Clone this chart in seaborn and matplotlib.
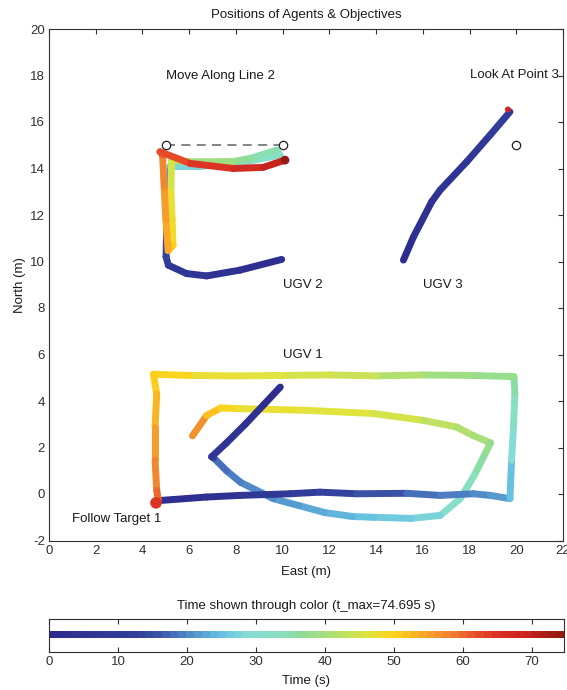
import numpy as np
import matplotlib
matplotlib.use("Agg")
import matplotlib.pyplot as plt
import seaborn as sns
import pandas as pd
from matplotlib.collections import LineCollection
from matplotlib.colors import LinearSegmentedColormap, Normalize

T_MAX = 74.695

# ---- UGV 1 trajectory (time s, east m, north m)
ugv1_t = [0, 2, 4, 6, 8, 18, 19, 20, 21.5, 22.5, 23.5, 24.5, 25.5, 27, 29, 32, 34, 36.5, 39,
          40.5, 42, 44, 45.5, 47, 48.5, 50.5, 54, 59]
ugv1_x = [9.9, 9.2, 8.4, 7.6, 6.96, 7.05, 7.6, 8.2, 9.6, 10.7, 11.8, 13.0, 13.9, 15.5, 16.75, 17.6, 18.2, 18.6, 18.9,
          18.14, 17.45, 16.0, 13.9, 11.0, 8.18, 7.35, 6.75, 6.14]
ugv1_y = [4.6, 3.85, 3.0, 2.2, 1.6, 1.55, 1.0, 0.5, -0.2, -0.5, -0.8, -0.97, -1.0, -1.05, -0.92, -0.2, 0.8, 1.6, 2.2,
          2.52, 2.88, 3.17, 3.46, 3.6, 3.67, 3.7, 3.38, 2.5]

# ---- UGV 2 trajectory
ugv2_t = [0, 3, 5, 7, 9, 10, 17, 24, 26, 28, 30, 32, 34, 36, 38, 40, 44, 46, 48, 50, 52, 53, 55, 57, 59,
          61, 63, 66, 68.5, 71]
ugv2_x = [9.96, 8.18, 6.75, 5.89, 5.11, 5.01, 5.05, 5.2, 5.39, 6.5, 8.0, 9.89, 9.75, 8.6, 7.9, 6.04, 5.25, 5.22,
          5.27, 5.31, 5.1, 5.1, 5.0, 4.93, 4.86, 4.75, 6.04, 7.89, 9.17, 10.1]
ugv2_y = [10.09, 9.63, 9.38, 9.48, 9.84, 10.2, 12.2, 14.1, 14.1, 14.1, 14.2, 14.58, 14.79, 14.43, 14.3, 14.29,
          14.35, 13.0, 11.8, 10.7, 10.47, 10.47, 11.8, 13.2, 14.57, 14.72, 14.22, 14.0, 14.05, 14.36]

# ---- UGV 3 trajectory
ugv3_t = [0, 1.5, 3.5, 4.5, 6.5, 8.5, 10.5]
ugv3_x = [15.17, 15.6, 16.38, 16.74, 17.88, 18.88, 19.73]
ugv3_y = [10.06, 11.06, 12.57, 13.07, 14.29, 15.44, 16.44]

# ---- Target 1 trajectory
tgt_t = [0, 3, 6, 9.5, 12.5, 15, 17.5, 19, 20.5, 21.5, 22.5, 27, 30.5, 34, 36.5, 38.5, 40.5, 42.5, 44, 45.5,
         47, 48.5, 50, 51.5, 54, 56.5, 59, 62]
tgt_x = [4.75, 6.75, 8.18, 10.32, 11.6, 13.17, 15.31, 16.74, 18.16, 18.88, 19.73, 19.8, 19.88, 19.94, 19.9,
         18.0, 16.0, 14.0, 12.0, 10.0, 8.0, 6.0, 4.47, 4.61, 4.54, 4.54, 4.61, 4.68]
tgt_y = [-0.28, -0.13, -0.06, 0.01, 0.08, 0.01, 0.03, -0.06, 0.01, -0.06, -0.2, 1.45, 2.9, 4.32, 5.05,
         5.1, 5.12, 5.08, 5.12, 5.1, 5.08, 5.1, 5.15, 4.3, 2.88, 1.45, 0.15, -0.25]

# ---- end markers (x, y, t)
end_x = [10.1, 19.64, 4.58]
end_y = [14.36, 16.54, -0.38]
end_t = [74.0, 68.0, 65.0]

# ---- objectives
obj_x = [5, 10, 20]
obj_y = [15, 15, 15]
line2_x = [5, 10]
line2_y = [15, 15]

labels = ["Move Along Line 2", "Look At Point 3", "Follow Target 1", "UGV 1", "UGV 2", "UGV 3"]
label_x = [5, 18, 1.0, 10, 10, 16]
label_y = [18, 18, -1.08, 6, 9, 9]

cb_ticks = [0, 10, 20, 30, 40, 50, 60, 70]

# ---- colour map sampled from the reference colour bar
cm_pos = [0.0, 0.17, 0.206, 0.25, 0.297, 0.336, 0.38, 0.446, 0.49, 0.553, 0.618, 0.676, 0.735, 0.787,
          0.833, 0.877, 0.929, 1.0]
cm_col = ["#2e2d8f", "#32409c", "#3a52a5", "#4a7ac0", "#5aa5d5", "#68c3e2", "#86dcd6", "#88e0c0", "#8cdc98",
          "#b0e070", "#e0e440", "#ffd21a", "#f7a52a", "#f08030", "#e8502a", "#dc3024", "#cc2420", "#951a10"]
cmap = LinearSegmentedColormap.from_list("tcol", list(zip(cm_pos, cm_col)), N=64)
norm = Normalize(0, T_MAX)

FS = 9.5

sns.set_theme(style="white")
plt.rcParams["font.family"] = ["Liberation Sans", "DejaVu Sans"]
plt.rcParams["font.size"] = FS
plt.rcParams["axes.unicode_minus"] = False
plt.rcParams["axes.edgecolor"] = "#303030"
plt.rcParams["axes.linewidth"] = 0.8
plt.rcParams["xtick.color"] = "#303030"
plt.rcParams["ytick.color"] = "#303030"
plt.rcParams["text.color"] = "#1a1a1a"
plt.rcParams["axes.labelcolor"] = "#1a1a1a"

fig = plt.figure(figsize=(5.67, 6.9), dpi=100)
ax = fig.add_axes([49 / 567, 1 - 540.5 / 690, 514 / 567, 511.5 / 690])
cax = fig.add_axes([49 / 567, 1 - 652 / 690, 515 / 567, 33 / 690])

LW = 5.0


def draw_path(t, x, y, z, reverse=False):
    pts = np.column_stack([x, y])
    segs = np.stack([pts[:-1], pts[1:]], axis=1)
    tm = (np.asarray(t[:-1], float) + np.asarray(t[1:], float)) / 2
    if reverse:
        segs = segs[::-1]
        tm = tm[::-1]
    lc = LineCollection(segs, cmap=cmap, norm=norm, linewidths=LW, capstyle="round",
                        joinstyle="round", zorder=z)
    lc.set_array(tm)
    ax.add_collection(lc)


draw_path(ugv1_t, ugv1_x, ugv1_y, 2, reverse=True)
draw_path(ugv2_t, ugv2_x, ugv2_y, 2)
draw_path(ugv3_t, ugv3_x, ugv3_y, 2)
draw_path(tgt_t, tgt_x, tgt_y, 3)

ends = pd.DataFrame({"x": end_x, "y": end_y, "t": end_t})
sns.scatterplot(data=ends, x="x", y="y", hue="t", palette=cmap, hue_norm=norm, s=[40, 18, 70],
                linewidth=0, legend=False, ax=ax, zorder=4)

# objectives
sns.lineplot(x=line2_x, y=line2_y, ax=ax, color="#7a7a7a", lw=1.3,
             linestyle=(0, (5, 3.5)), zorder=5)
sns.scatterplot(x=obj_x, y=obj_y, ax=ax, s=36, facecolor="white", edgecolor="#202020",
                linewidth=0.9, zorder=6, legend=False)

for s, lx, ly in zip(labels, label_x, label_y):
    ax.text(lx, ly, s, ha="left", va="center", fontsize=FS, clip_on=False, zorder=7)

ax.set_xlim(0, 22)
ax.set_ylim(-2, 20)
ax.set_xticks(range(0, 23, 2))
ax.set_yticks(range(-2, 21, 2))
ax.tick_params(direction="in", length=3.5, width=0.8, top=True, right=True, labelsize=FS, pad=3)
ax.set_xlabel("East (m)", fontsize=FS, labelpad=7)
ax.set_ylabel("North (m)", fontsize=FS, labelpad=3)
ax.set_title("Positions of Agents & Objectives", fontsize=FS, pad=8)
for sp in ax.spines.values():
    sp.set_visible(True)

# colour bar drawn as a line
grad = np.linspace(0, 1, 256)[None, :]
cax.imshow(grad, cmap=cmap, extent=[0, T_MAX, -0.17, 0.2], aspect="auto", interpolation="nearest")
cax.set_xlim(0, T_MAX)
cax.set_ylim(-1, 1)
cax.set_xticks(cb_ticks)
cax.set_yticks([])
cax.tick_params(direction="in", length=3.5, width=0.8, top=True, bottom=True, labelsize=FS, pad=3)
cax.set_xlabel("Time (s)", fontsize=FS, labelpad=5)
cax.set_title("Time shown through color (t_max=74.695 s)", fontsize=FS, pad=7)
for sp in cax.spines.values():
    sp.set_visible(True)

fig.savefig("out.png", dpi=100)
